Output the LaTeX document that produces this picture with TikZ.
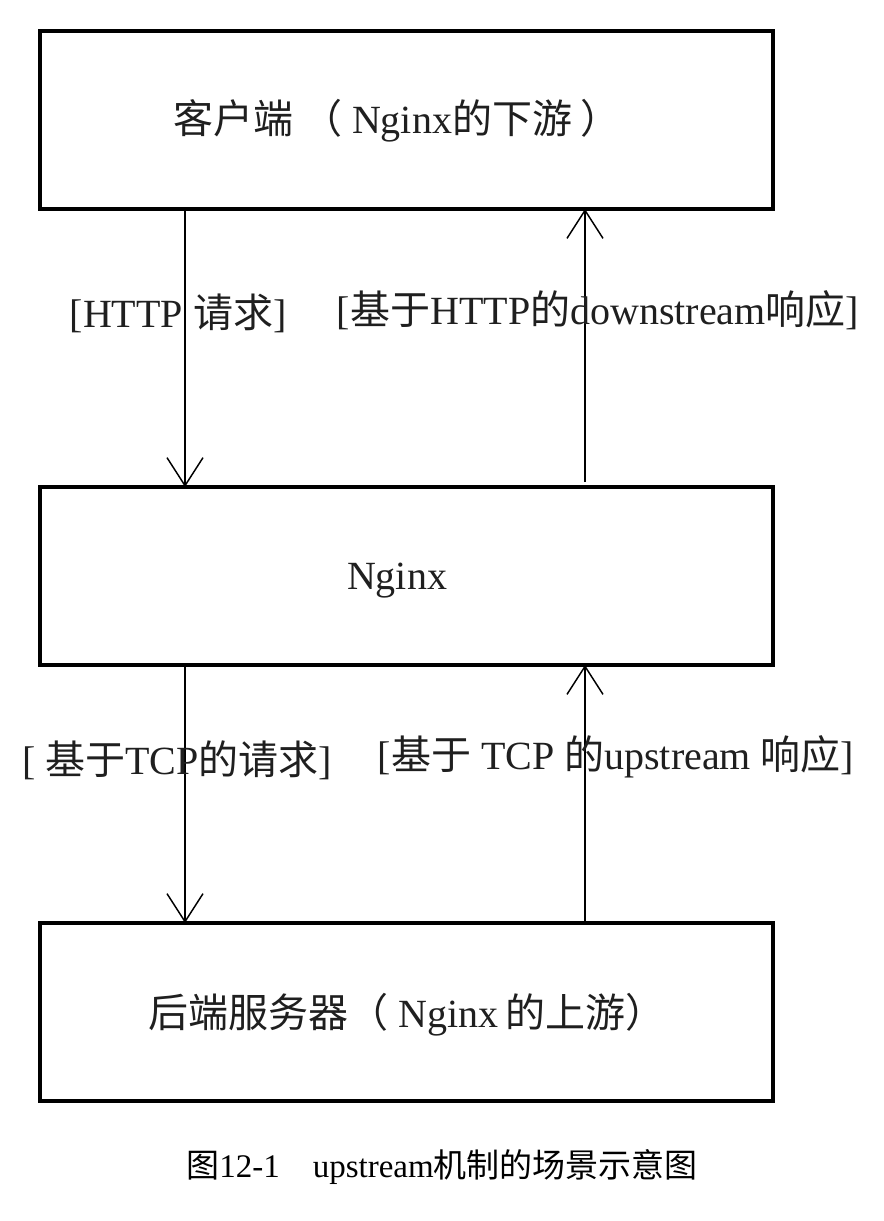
\documentclass[tikz,border=0pt]{standalone}
\usepackage{fontspec}
\setmainfont{Liberation Serif}
\newfontfamily\cjk{Noto Sans CJK SC}
\usetikzlibrary{arrows.meta}
\newcommand\zh[1]{{\cjk #1}}
\begin{document}
\begin{tikzpicture}[x=0.75pt,y=-0.75pt,
  box/.style={draw, line width=2.4pt, minimum width=549.75pt, minimum height=133.5pt, outer sep=0pt, inner sep=0pt},
  txt/.style={font=\fontsize{30}{36}\selectfont, inner sep=0pt, text=black!88},
  captxt/.style={font=\fontsize{24.75}{30}\selectfont, inner sep=0pt, text=black},
  arr/.style={line width=1.1pt, -{Straight Barb[length=21pt,width=27pt,line width=1.1pt]}}
  ]
\useasboundingbox[fill=white] (0,0) rectangle (883,1221);
% boxes
\node[box] (client) at (406.5,120) {};
\node[box] (nginx) at (406.5,576) {};
\node[box] (backend) at (406.5,1012) {};
% box texts
\node[txt] (clientText) at (397,121) {\zh{客户端 （} Nginx\zh{的下游 ）}};
\node[txt] (nginxText) at (397,581) {Nginx};
\node[txt] (backendText) at (407,1015) {\zh{后端服务器（} Nginx\,\zh{的上游）}};
% arrow columns
\coordinate (L) at (185,0);
\coordinate (R) at (585,0);
\draw[arr] (client.south -| L) -- (nginx.north -| L);
\draw[arr, shorten <=3.75pt] (nginx.north -| R) -- (client.south -| R);
\draw[arr] (nginx.south -| L) -- (backend.north -| L);
\draw[arr] (backend.north -| R) -- (nginx.south -| R);
% labels
\node[txt] (httpReq) at (178,313) {[HTTP \zh{请求}]};
\node[txt] (httpResp) at (598,310) {[\zh{基于}HTTP\zh{的}downstream\zh{响应}]};
\node[txt] (tcpReq) at (177,760) {[ \zh{基于}TCP\zh{的请求}]};
\node[txt] (tcpResp) at (616,757) {[\zh{基于} TCP \zh{的}upstream \zh{响应}]};
% caption
\node[captxt] (caption) at (442,1167) {\zh{图}12-1\zh{　}upstream\zh{机制的场景示意图}};
\end{tikzpicture}
\end{document}
